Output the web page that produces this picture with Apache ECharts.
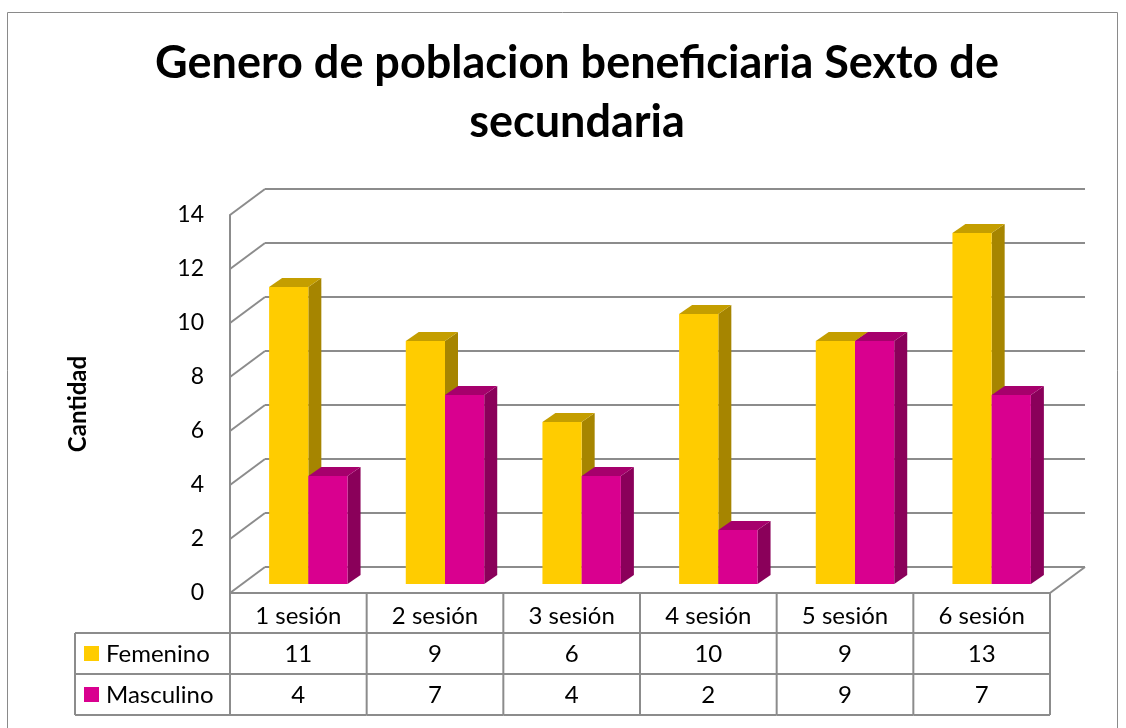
<!DOCTYPE html>
<html><head><meta charset="utf-8">
<script src="https://cdn.jsdelivr.net/npm/echarts@6/dist/echarts.min.js"></script>
<style>html,body{margin:0;padding:0;background:#fff}#c{width:1126px;height:728px}</style>
</head><body><div id="c"></div>
<script>
const titleLines = ['Genero de poblacion beneficiaria Sexto de', 'secundaria'];
const yAxisName = 'Cantidad';
const categories = ['1 sesión', '2 sesión', '3 sesión', '4 sesión', '5 sesión', '6 sesión'];
const seriesNames = ['Femenino', 'Masculino'];
const femenino = [11, 9, 6, 10, 9, 13];
const masculino = [4, 7, 4, 2, 9, 7];
const yTicks = [0, 2, 4, 6, 8, 10, 12, 14];

const FONT = 'Lato';
const GRID_COLOR = '#8c8c8c';
const DEPTH = [35, -26];      // front plane -> back wall
const BAR_SHIFT = [10, -9];   // front plane -> bar front face
const BAR_DEPTH = [13, -9];
const colors = [
  {front: '#FFCC00', side: '#A68500', top: '#C49E00'},
  {front: '#D9008F', side: '#8A005A', top: '#A6006C'}
];

const chart = echarts.init(document.getElementById('c'), null, {renderer: 'canvas'});

function barSeries(idx, values) {
  return {
    type: 'custom', name: seriesNames[idx], xAxisIndex: 0, yAxisIndex: 0, clip: false, z: 5 + idx,
    data: values.map((v, i) => [i, v]),
    renderItem: function (params, api) {
      const i = api.value(0), v = api.value(1);
      const c0 = api.coord([i, 0]);
      const c1 = api.coord([i, v]);
      const band = api.size([1, 0])[0];
      const bw = band * 0.287;
      const x = c0[0] + BAR_SHIFT[0] + (idx === 0 ? -bw : 0);
      const yb = c0[1] + BAR_SHIFT[1];
      const yt = c1[1] + BAR_SHIFT[1];
      const dx = BAR_DEPTH[0], dy = BAR_DEPTH[1];
      const col = colors[idx];
      return {
        type: 'group', children: [
          {type: 'polygon', shape: {points: [[x + bw, yt], [x + bw + dx, yt + dy], [x + bw + dx, yb + dy], [x + bw, yb]]}, style: {fill: col.side}},
          {type: 'polygon', shape: {points: [[x, yt], [x + dx, yt + dy], [x + bw + dx, yt + dy], [x + bw, yt]]}, style: {fill: col.top}},
          {type: 'rect', shape: {x: x, y: yt, width: bw, height: yb - yt}, style: {fill: col.front}}
        ]
      };
    }
  };
}

const ROWS = [40, 41, 41];
const LEFT_COL = 155;
const TABLE_FONT = 24;

const tableSeries = {
  type: 'custom', xAxisIndex: 0, yAxisIndex: 0, clip: false, z: 10, silent: true,
  data: categories.map((c, i) => [i, femenino[i], masculino[i]]),
  renderItem: function (params, api) {
    const i = api.value(0);
    const c0 = api.coord([i, 0]);
    const band = api.size([1, 0])[0];
    const xl = c0[0] - band / 2, xr = c0[0] + band / 2;
    const y0 = c0[1], y1 = y0 + ROWS[0], y2 = y1 + ROWS[1], y3 = y2 + ROWS[2];
    const ls = {stroke: GRID_COLOR, lineWidth: 2};
    const ts = {fontFamily: FONT, fontSize: TABLE_FONT, fill: '#000', align: 'center', verticalAlign: 'middle'};
    const ch = [
      {type: 'line', shape: {x1: xr, y1: y0, x2: xr, y2: y3}, style: ls},
      {type: 'line', shape: {x1: xl, y1: y1, x2: xr, y2: y1}, style: ls},
      {type: 'line', shape: {x1: xl, y1: y2, x2: xr, y2: y2}, style: ls},
      {type: 'line', shape: {x1: xl, y1: y3, x2: xr, y2: y3}, style: ls},
      {type: 'text', style: Object.assign({text: categories[i], x: c0[0], y: (y0 + y1) / 2 + 3}, ts)},
      {type: 'text', style: Object.assign({text: String(api.value(1)), x: c0[0], y: (y1 + y2) / 2 + 1}, ts)},
      {type: 'text', style: Object.assign({text: String(api.value(2)), x: c0[0], y: (y2 + y3) / 2 + 1}, ts)}
    ];
    if (i === 0) {
      const lx = xl - LEFT_COL;
      ch.push(
        {type: 'line', shape: {x1: xl, y1: y0, x2: xl, y2: y3}, style: ls},
        {type: 'line', shape: {x1: lx, y1: y1, x2: xl, y2: y1}, style: ls},
        {type: 'line', shape: {x1: lx, y1: y2, x2: xl, y2: y2}, style: ls},
        {type: 'line', shape: {x1: lx, y1: y3, x2: xl, y2: y3}, style: ls},
        {type: 'line', shape: {x1: lx, y1: y1, x2: lx, y2: y3}, style: ls},
        {type: 'rect', shape: {x: lx + 9, y: (y1 + y2) / 2 - 7.5, width: 15, height: 15}, style: {fill: colors[0].front}},
        {type: 'rect', shape: {x: lx + 9, y: (y2 + y3) / 2 - 7.5, width: 15, height: 15}, style: {fill: colors[1].front}},
        {type: 'text', style: {text: seriesNames[0], x: lx + 31, y: (y1 + y2) / 2 + 1, fontFamily: FONT, fontSize: TABLE_FONT, fill: '#000', align: 'left', verticalAlign: 'middle'}},
        {type: 'text', style: {text: seriesNames[1], x: lx + 31, y: (y2 + y3) / 2 + 1, fontFamily: FONT, fontSize: TABLE_FONT, fill: '#000', align: 'left', verticalAlign: 'middle'}}
      );
    }
    return {type: 'group', children: ch};
  }
};

const frameSeries = {
  type: 'custom', xAxisIndex: 0, yAxisIndex: 0, clip: false, z: 1, silent: true,
  data: yTicks.map(v => [0, v]),
  renderItem: function (params, api) {
    const v = api.value(1);
    const cs = params.coordSys;
    const y = api.coord([0, v])[1];
    const ls = {stroke: GRID_COLOR, lineWidth: 2};
    const ch = [{type: 'line', shape: {x1: cs.x, y1: y, x2: cs.x + DEPTH[0], y2: y + DEPTH[1]}, style: ls}];
    if (v === 0) {
      ch.push({type: 'line', shape: {x1: cs.x + cs.width, y1: y, x2: cs.x + cs.width + DEPTH[0], y2: y + DEPTH[1]}, style: ls});
      ch.push({type: 'line', shape: {x1: cs.x, y1: y, x2: cs.x + cs.width, y2: y}, style: ls});
    }
    return {type: 'group', children: ch};
  }
};

const option = {
  backgroundColor: '#fff',
  animation: false,
  title: [
    {text: titleLines[0], left: 572, top: 36, textAlign: 'center', textStyle: {fontFamily: FONT, fontSize: 45, fontWeight: 'bold', color: '#000'}},
    {text: titleLines[1], left: 572, top: 95, textAlign: 'center', textStyle: {fontFamily: FONT, fontSize: 45, fontWeight: 'bold', color: '#000'}}
  ],
  graphic: [
    {type: 'rect', shape: {x: 7.5, y: 12.5, width: 1110, height: 740}, style: {fill: 'none', stroke: '#8a8a8a', lineWidth: 1}, z: -1}
  ],
  grid: [
    {left: 230, top: 215, width: 820, height: 378},
    {left: 230 + DEPTH[0], top: 215 + DEPTH[1], width: 820, height: 378}
  ],
  xAxis: [
    {type: 'category', data: categories, gridIndex: 0, axisLine: {show: false}, axisTick: {show: false}, axisLabel: {show: false}},
    {type: 'category', data: categories, gridIndex: 1, show: false}
  ],
  yAxis: [
    {type: 'value', gridIndex: 0, min: 0, max: 14, interval: 2,
     name: yAxisName, nameLocation: 'middle', nameRotate: 90, nameGap: 140,
     nameTextStyle: {fontFamily: FONT, fontSize: 24, fontWeight: 'bold', color: '#000'},
     axisLine: {show: true, lineStyle: {color: GRID_COLOR, width: 2}}, axisTick: {show: false},
     axisLabel: {fontFamily: FONT, fontSize: 23, color: '#000', margin: 26},
     splitLine: {show: false}},
    {type: 'value', gridIndex: 1, min: 0, max: 14, interval: 2,
     axisLine: {show: false}, axisTick: {show: false}, axisLabel: {show: false},
     splitLine: {show: true, lineStyle: {color: GRID_COLOR, width: 2}}}
  ],
  series: [frameSeries, barSeries(0, femenino), barSeries(1, masculino), tableSeries]
};
chart.setOption(option);
</script>
</body></html>
